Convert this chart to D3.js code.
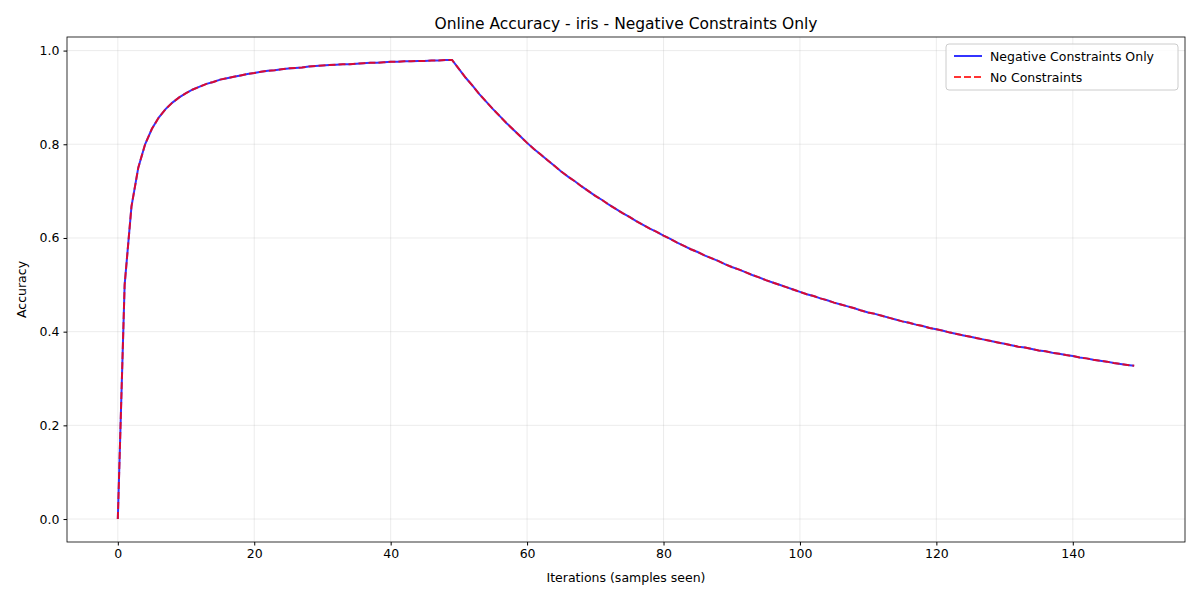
<!DOCTYPE html>
<html>
<head>
<meta charset="utf-8">
<script src="https://cdn.jsdelivr.net/npm/d3@7"></script>
<style>
  body { margin: 0; background: #fff; }
  text { font-family: "DejaVu Sans", sans-serif; }
</style>
</head>
<body>
<svg width="1200" height="600"></svg>
<script>
// accuracy per iteration
const negativeOnly = [
  0, .5, .667, .75, .8, .833, .857, .875, .889, .9,
  .909, .917, .923, .929, .933, .938, .941, .944, .947, .95,
  .952, .955, .957, .958, .96, .962, .963, .964, .966, .967,
  .968, .969, .97, .971, .971, .972, .973, .974, .974, .975,
  .976, .976, .977, .977, .978, .978, .979, .979, .98, .98,
  .961, .942, .925, .907, .891, .875, .86, .845, .831, .817,
  .803, .79, .778, .766, .754, .742, .731, .721, .71, .7,
  .69, .681, .671, .662, .653, .645, .636, .628, .62, .613,
  .605, .598, .59, .583, .576, .57, .563, .557, .551, .544,
  .538, .533, .527, .521, .516, .51, .505, .5, .495, .49,
  .485, .48, .476, .471, .467, .462, .458, .454, .45, .445,
  .441, .438, .434, .43, .426, .422, .419, .415, .412, .408,
  .405, .402, .398, .395, .392, .389, .386, .383, .38, .377,
  .374, .371, .368, .366, .363, .36, .358, .355, .353, .35,
  .348, .345, .343, .34, .338, .336, .333, .331, .329, .327
];
const noConstraints = negativeOnly.slice();
const xTicks = [0, 20, 40, 60, 80, 100, 120, 140];
const yTicks = [0, 0.2, 0.4, 0.6, 0.8, 1.0];

const canvas = d3.select("svg");
const pLeft = 67, pRight = 1185, pTop = 37, pBottom = 542;

const x = d3.scaleLinear().domain([-7.45, 156.45]).range([pLeft, pRight]);
const y = d3.scaleLinear().domain([-0.049, 1.029]).range([pBottom, pTop]);

// grid
canvas.append("g").selectAll("line").data(xTicks).join("line")
  .attr("x1", d => x(d)).attr("x2", d => x(d)).attr("y1", pTop).attr("y2", pBottom)
  .attr("stroke", "#b0b0b0").attr("stroke-opacity", 0.3).attr("stroke-width", 0.8);
canvas.append("g").selectAll("line").data(yTicks).join("line")
  .attr("y1", d => y(d)).attr("y2", d => y(d)).attr("x1", pLeft).attr("x2", pRight)
  .attr("stroke", "#b0b0b0").attr("stroke-opacity", 0.3).attr("stroke-width", 0.8);

// axes
const xAxis = canvas.append("g").attr("transform", `translate(0,${pBottom})`)
  .call(d3.axisBottom(x).tickValues(xTicks).tickSize(3.5).tickPadding(4));
const yAxis = canvas.append("g").attr("transform", `translate(${pLeft},0)`)
  .call(d3.axisLeft(y).tickValues(yTicks).tickFormat(d3.format(".1f")).tickSize(3.5).tickPadding(4));
[xAxis, yAxis].forEach(a => {
  a.select(".domain").remove();
  a.selectAll("text").attr("font-size", 12.5).attr("fill", "#000").style("font-family", "DejaVu Sans");
  a.selectAll("line").attr("stroke", "#000");
});
canvas.append("rect").attr("x", pLeft).attr("y", pTop)
  .attr("width", pRight - pLeft).attr("height", pBottom - pTop)
  .attr("fill", "none").attr("stroke", "#000").attr("stroke-width", 0.8);

// lines
const line = d3.line().x((d, i) => x(i)).y(d => y(d));
canvas.append("path").datum(negativeOnly).attr("d", line)
  .attr("fill", "none").attr("stroke", "blue").attr("stroke-opacity", 0.8).attr("stroke-width", 2);
canvas.append("path").datum(noConstraints).attr("d", line)
  .attr("fill", "none").attr("stroke", "red").attr("stroke-opacity", 0.8).attr("stroke-width", 2)
  .attr("stroke-dasharray", "7,3");

// titles
canvas.append("text").attr("x", (pLeft + pRight) / 2).attr("y", 29).attr("text-anchor", "middle")
  .attr("font-size", 15.5).text("Online Accuracy - iris - Negative Constraints Only");
canvas.append("text").attr("x", (pLeft + pRight) / 2).attr("y", 582).attr("text-anchor", "middle")
  .attr("font-size", 12.5).text("Iterations (samples seen)");
canvas.append("text").attr("transform", `translate(26,${(pTop + pBottom) / 2}) rotate(-90)`)
  .attr("text-anchor", "middle").attr("font-size", 12.5).text("Accuracy");

// legend
const lg = canvas.append("g");
lg.append("rect").attr("x", 946).attr("y", 44).attr("width", 232).attr("height", 46).attr("rx", 3)
  .attr("fill", "#fff").attr("fill-opacity", 0.8).attr("stroke", "#ccc");
const items = [["Negative Constraints Only", "blue", null], ["No Constraints", "red", "7,3"]];
items.forEach((it, i) => {
  const yy = 56 + i * 21;
  lg.append("line").attr("x1", 954).attr("x2", 982).attr("y1", yy).attr("y2", yy)
    .attr("stroke", it[1]).attr("stroke-opacity", 0.8).attr("stroke-width", 2)
    .attr("stroke-dasharray", it[2]);
  lg.append("text").attr("x", 990).attr("y", yy + 4.5).attr("font-size", 12.5).text(it[0]);
});
</script>
</body>
</html>
